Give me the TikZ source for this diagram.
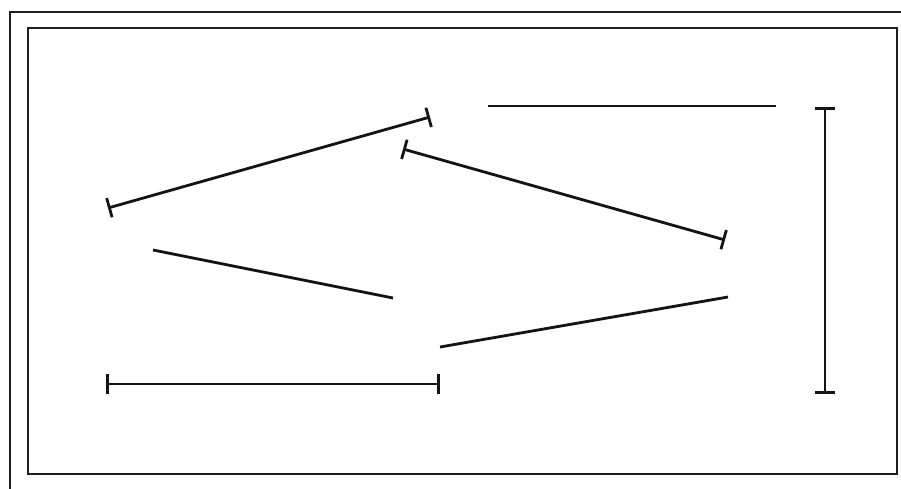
\documentclass[tikz,border=0pt]{standalone}
\usetikzlibrary{arrows.meta}
\begin{document}
\begin{tikzpicture}[x=1pt,y=-1pt,
  seg/.style={line width=2.8pt,black!92},
  barseg/.style={seg,{Bar[width=20pt,line width=2.8pt]}-{Bar[width=20pt,line width=2.8pt]}},
  frame/.style={line width=2.8pt,black!88}]
\useasboundingbox (0,0) rectangle (901,488);
\fill[white] (0,0) rectangle (901,488);
\begin{scope}
\clip (0,0) rectangle (901,488);
\draw[frame] (10,12) rectangle (915,500);
\end{scope}
\draw[frame] (28,28) rectangle (897,474);
% coordinates
\coordinate (a1) at (108,208);
\coordinate (a2) at (430,117);
\coordinate (b1) at (403,149);
\coordinate (b2) at (725,240);
\coordinate (c1) at (488,106);
\coordinate (c2) at (776,106);
\coordinate (d1) at (825,107);
\coordinate (d2) at (825,394);
\coordinate (e1) at (153,250);
\coordinate (e2) at (393,298);
\coordinate (f1) at (440,347);
\coordinate (f2) at (728,297);
\coordinate (g1) at (106,384);
\coordinate (g2) at (440,384);
\draw[barseg] (a1) -- (a2);
\draw[barseg] (b1) -- (b2);
\draw[seg] (c1) -- (c2);
\draw[barseg] (d1) -- (d2);
\draw[seg] (e1) -- (e2);
\draw[seg] (f1) -- (f2);
\draw[barseg] (g1) -- (g2);
\end{tikzpicture}
\end{document}
